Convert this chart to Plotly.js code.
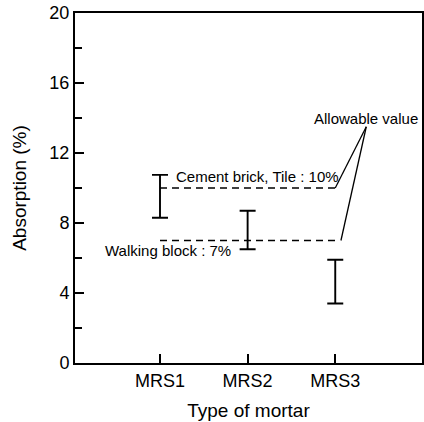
<!DOCTYPE html>
<html>
<head>
<meta charset="utf-8">
<script src="https://cdn.plot.ly/plotly-3.0.1.min.js"></script>
<style>
  html, body { margin: 0; padding: 0; background: #fff; }
  #chart { width: 424px; height: 422px; }
</style>
</head>
<body>
<div id="chart"></div>
<script>
// Water absorption range of each mortar type
const mortars = ['MRS1', 'MRS2', 'MRS3'];
const mortarPos = [1, 2, 3];
const absorptionMin = [8.3, 6.5, 3.4];
const absorptionMax = [10.75, 8.7, 5.9];

// Allowable absorption limits
const limitLabels = ['Cement brick, Tile : 10%', 'Walking block : 7%'];
const limitValues = [10, 7];
const limitEnds = [3.0, 3.02];

const yTicks = [0, 4, 8, 12, 16, 20];

const font = 'Liberation Sans, Arial, Helvetica, sans-serif';

// Range bars: anchored at the maximum, reaching down to the minimum
const rangeTrace = {
  type: 'scatter',
  mode: 'markers',
  x: mortarPos,
  y: absorptionMax,
  marker: { size: 1, opacity: 0, color: '#000' },
  error_y: {
    type: 'data',
    symmetric: false,
    array: absorptionMax.map(() => 0),
    arrayminus: absorptionMax.map((v, i) => v - absorptionMin[i]),
    color: '#000',
    thickness: 1.9,
    width: 8
  },
  hoverinfo: 'skip',
  showlegend: false
};

// Dashed limit lines from MRS1 to MRS3
const limitTraces = limitValues.map((v, i) => ({
  type: 'scatter',
  mode: 'lines',
  x: [mortarPos[0], limitEnds[i]],
  y: [v, v],
  line: { color: '#000', width: 1.5, dash: '7px,5px' },
  hoverinfo: 'skip',
  showlegend: false
}));

// Callout for the allowable values
const calloutX = 3.354, calloutY = 13.5;
const leaderEnds = [[3.0, limitValues[0]], [3.065, limitValues[1]]];
const shapes = leaderEnds.map(([x, y]) => ({
  type: 'line', xref: 'x', yref: 'y',
  x0: calloutX, y0: calloutY, x1: x, y1: y,
  line: { color: '#000', width: 1.3 }
}));

const annotations = [
  { x: 1.16, y: 10.66, text: limitLabels[0], xanchor: 'left', yanchor: 'middle' },
  { x: 0.35, y: 6.45, text: limitLabels[1], xanchor: 'left', yanchor: 'middle' },
  { x: calloutX, y: 13.95, text: 'Allowable value', xanchor: 'center', yanchor: 'middle' }
].map(a => Object.assign({
  xref: 'x', yref: 'y', showarrow: false,
  font: { family: font, size: 15, color: '#000' }
}, a));

const layout = {
  width: 424,
  height: 422,
  margin: { l: 75, r: 2, t: 13, b: 59 },
  paper_bgcolor: '#fff',
  plot_bgcolor: '#fff',
  font: { family: font, color: '#000' },
  showlegend: false,
  xaxis: {
    range: [0.03, 3.99],
    tickvals: mortarPos,
    ticktext: mortars,
    ticks: 'inside',
    ticklen: 9,
    tickwidth: 1.8,
    tickcolor: '#000',
    tickfont: { family: font, size: 18, color: '#000' },
    showline: true,
    linecolor: '#000',
    linewidth: 2,
    mirror: true,
    showgrid: false,
    zeroline: false,
    title: { text: 'Type of mortar', font: { family: font, size: 19, color: '#000' }, standoff: 14 }
  },
  yaxis: {
    range: [0, 20],
    tickvals: yTicks,
    ticks: 'inside',
    ticklen: 9,
    tickwidth: 1.8,
    tickcolor: '#000',
    tickfont: { family: font, size: 18, color: '#000' },
    minor: { dtick: 2, ticks: 'inside', ticklen: 7, tickwidth: 1.5, tickcolor: '#000', showgrid: false },
    showline: true,
    linecolor: '#000',
    linewidth: 2,
    mirror: true,
    showgrid: false,
    zeroline: false,
    title: { text: 'Absorption (%)', font: { family: font, size: 19, color: '#000' }, standoff: 18 }
  },
  shapes: shapes,
  annotations: annotations
};

Plotly.newPlot('chart', [rangeTrace, ...limitTraces], layout, { staticPlot: true, displayModeBar: false });
</script>
</body>
</html>
